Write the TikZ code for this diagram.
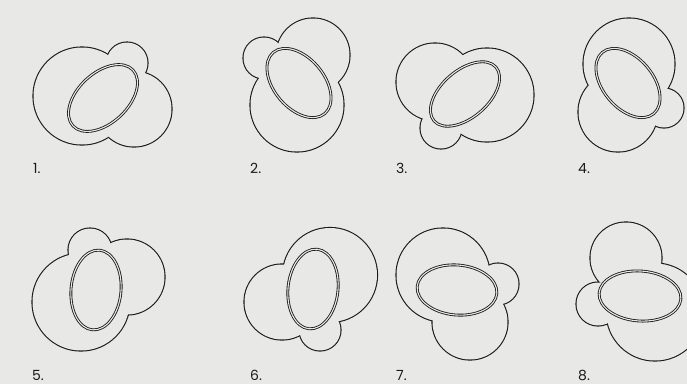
\documentclass[tikz,border=0pt]{standalone}
\usepackage{fontspec}
\setmainfont{Poppins}
\definecolor{paper}{HTML}{E8E8E6}
\definecolor{ink}{HTML}{1A1A1A}
\tikzset{
  rim/.style   = {draw=ink, line width=2.2pt},
  cover/.style = {fill=paper},
  lens/.style  = {draw=ink, line width=0.85pt, double=paper,
                  double distance=1.1pt},
  tag/.style   = {font=\fontsize{14}{16}\selectfont, text=ink,
                  anchor=base west, inner sep=0pt},
}
\def\blobs{82/96/48.5, 127/63/20.5, 134/109/37.5,
  297/105/46.5, 313/55/36.5, 264/58/20.5,
  435/82/38.5, 487/95/46.5, 441/128/20.5,
  629/64/45.5, 618/112/39.5, 664/108/19.5,
  81/302/48.5, 90/250/21.5, 127/277/37.5,
  282/302/37.5, 330/275/47, 320/330/20.5,
  443/275/46.5, 498/284/20.5, 470/322/37.5,
  626/258/35.5, 598/304/21.5, 655/312/48.5}

\begin{document}
\begin{tikzpicture}[x=1pt, y=-1pt]
  \fill[paper] (0,0) rectangle (687,384);
  \useasboundingbox (0,0) rectangle (687,384);
  \clip (0,0) rectangle (687,384);

  \foreach \x/\y/\r in \blobs
    \draw[rim] (\x,\y) circle[radius=\r];
  \foreach \x/\y/\r in \blobs
    \fill[cover] (\x,\y) circle[radius=\r];

  \foreach \x/\y/\a/\b/\t in {103/98/41/25/43, 299/83/40/25/-50,
      465/94/41/23.5/41, 628/83/40/25/-50, 96/290/40/25/85,
      313/289/40/25/84, 457/290/40/25/-5, 640/296/41/25/-4}
    \draw[lens, rotate around={\t:(\x,\y)}] (\x,\y)
      ellipse[x radius=\a, y radius=\b];

  \foreach \n/\x/\y in {1/33/173, 2/250/173, 3/396/173, 4/578/173,
      5/32/380, 6/250/380, 7/396/380, 8/578/380}
    \node[tag] (l\n) at (\x,\y) {\n.};
\end{tikzpicture}
\end{document}
